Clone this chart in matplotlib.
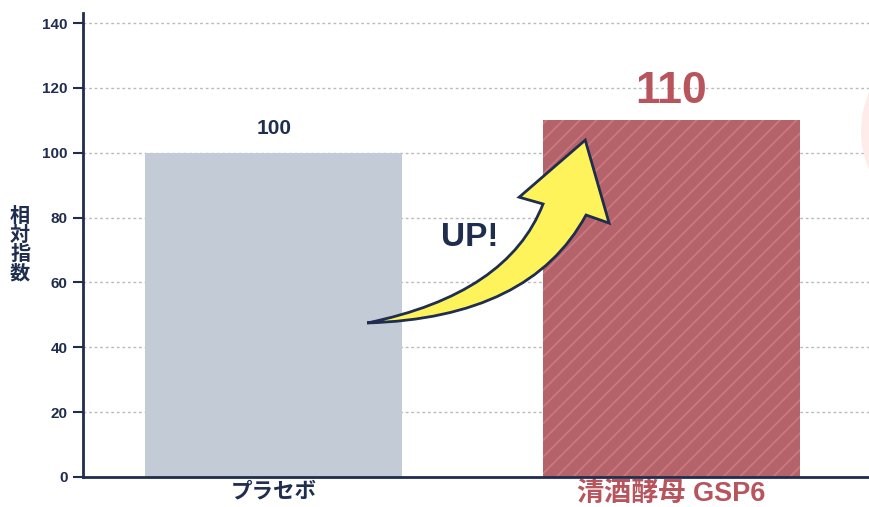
import matplotlib.pyplot as plt
from matplotlib.patches import Ellipse, PathPatch
from matplotlib.path import Path

plt.rcParams['font.family'] = ['Liberation Sans', 'Noto Sans CJK JP']
plt.rcParams['hatch.linewidth'] = 1.2

# data
categories = ['プラセボ', '清酒酵母 GSP6']
values = [100, 110]
value_labels = ['100', '110']
y_ticks = [0, 20, 40, 60, 80, 100, 120, 140]

navy = '#1f2d4e'
red = '#b8545c'
bar_colors = ['#c3cbd6', '#b5636a']

fig = plt.figure(figsize=(8.69, 5.07), dpi=100)
ax = fig.add_axes([83 / 869, 30 / 507, 1 - 83 / 869, 464 / 507])

x = list(range(len(categories)))
bars = ax.bar(x, values, width=0.646, color=bar_colors, linewidth=0, zorder=2)
bars[1].set_hatch('//')
bars[1].set_edgecolor('#cc7a80')
bars[1].set_linewidth(0)

ax.set_xlim(-0.479, 1.496)
ax.set_ylim(0, 143.1)
ax.set_yticks(y_ticks)
ax.set_yticklabels([str(t) for t in y_ticks], fontsize=11, fontweight='bold', color=navy)
ax.set_xticks(x)
xt = ax.set_xticklabels(categories, fontweight='bold')
xt[0].set_color(navy)
xt[0].set_fontsize(15.5)
xt[1].set_color(red)
xt[1].set_fontsize(19.5)
ax.tick_params(axis='y', length=7, width=1.5, color=navy, pad=4)
ax.tick_params(axis='x', length=0, pad=3)

for s in ['top', 'right']:
    ax.spines[s].set_visible(False)
for s in ['left', 'bottom']:
    ax.spines[s].set_color(navy)
    ax.spines[s].set_linewidth(2)

ax.yaxis.grid(True, linestyle=(0, (2, 2)), color='#bbbbbb', linewidth=1, zorder=0)
ax.set_axisbelow(True)

# value labels
ax.text(x[0], values[0] + 7.5, value_labels[0], ha='center', va='center',
        fontsize=15, fontweight='bold', color=navy)
ax.text(x[1], values[1] + 8.8, value_labels[1], ha='center', va='center',
        fontsize=32, fontweight='bold', color=red)

# y label (stacked)
ax.text(-0.08, 0.5, '相\n対\n指\n数', transform=ax.transAxes, ha='center', va='center',
        fontsize=14.5, fontweight='bold', color=navy, linespacing=1.0)

# curved "UP" arrow: tail -> lower edge -> head -> upper edge -> tail
verts = [(0.235, 47.5),
         (0.645, 49.0), (0.785, 80.8),
         (0.843, 78.3), (0.783, 103.9), (0.617, 86.3), (0.677, 84.2),
         (0.589, 56.4), (0.235, 47.5),
         (0.235, 47.5)]
codes = [Path.MOVETO,
         Path.CURVE3, Path.CURVE3,
         Path.LINETO, Path.LINETO, Path.LINETO, Path.LINETO,
         Path.CURVE3, Path.CURVE3,
         Path.CLOSEPOLY]
ax.add_patch(PathPatch(Path(verts, codes), facecolor='#fff35c', edgecolor=navy,
                       lw=2, joinstyle='miter', zorder=5))
ax.text(0.492, 74, 'UP!', ha='center', va='center', fontsize=24,
        fontweight='bold', color=navy, zorder=6)

# faint decorative circle at the right edge
fig.patches.append(Ellipse((958 / 869, 1 - 131 / 507), 2 * 97 / 869, 2 * 97 / 507,
                           transform=fig.transFigure, facecolor='#fdecea',
                           edgecolor='none', zorder=3))

fig.savefig('out.png', dpi=100)
